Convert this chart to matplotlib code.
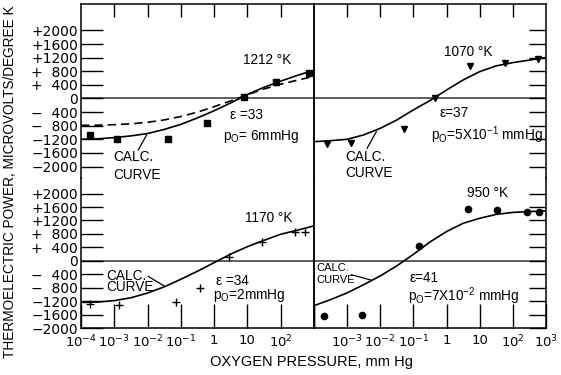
import numpy as np
import matplotlib.pyplot as plt
from matplotlib.ticker import FixedLocator, NullLocator

plt.rcParams['font.family'] = ['DejaVu Sans']
plt.rcParams['mathtext.default'] = 'regular'
LET = ['Liberation Sans', 'DejaVu Sans']

curve_logp = [-4, -3.5, -3, -2.5, -2, -1.5, -1, -0.5, 0, 0.5, 1, 1.5, 2, 2.5, 3]

# 1212 K
pts_1212_logp = [-3.73, -2.91, -1.38, -0.22, 0.90, 1.86, 2.85]
pts_1212_val = [-1070, -1186, -1186, -730, 40, 485, 750]
calc_1212 = [-1200, -1185, -1150, -1100, -1030, -910, -760, -570, -360, -130, 120, 330, 510, 680, 830]
dash_1212 = [-790, -785, -770, -745, -700, -630, -530, -400, -240, -70, 110, 280, 420, 540, 650]

# 1070 K
pts_1070_logp = [-3.61, -2.89, -1.27, -0.34, 0.71, 1.77, 2.76]
pts_1070_val = [-1338, -1309, -897, 0, 956, 1044, 1162]
calc_1070 = [-1270, -1240, -1200, -1070, -877, -630, -335, -60, 250, 545, 790, 960, 1055, 1130, 1205]

# 1170 K
pts_1170_logp = [-3.73, -2.85, -1.15, -0.43, 0.45, 1.44, 2.43, 2.73]
pts_1170_val = [-1276, -1306, -1237, -810, 110, 573, 852, 870]
calc_1170 = [-1240, -1228, -1185, -1100, -960, -775, -550, -310, -55, 200, 420, 610, 790, 910, 1040]

# 950 K
pts_950_logp = [-3.70, -2.54, -0.82, 0.66, 1.53, 2.44, 2.79]
pts_950_val = [-1632, -1602, 454, 1534, 1504, 1445, 1445]
calc_950 = [-1335, -1155, -955, -710, -450, -150, 190, 560, 870, 1115, 1265, 1380, 1440, 1465, 1485]

ytick_vals = [2000, 1600, 1200, 800, 400, 0, -400, -800, -1200, -1600, -2000]
ytick_labels = ['+2000', '+1600', '+1200', '+\u2007800', '+\u2007400', '0',
                '\u2212\u2007400', '\u2212\u2007800', '\u22121200', '\u22121600', '\u22122000']
xtick_exps = [-4, -3, -2, -1, 0, 1, 2, 3]
xlabels_left = ['$10^{-4}$', '$10^{-3}$', '$10^{-2}$', '$10^{-1}$', '1', '10', '$10^{2}$', '']
xlabels_right = ['', '$10^{-3}$', '$10^{-2}$', '$10^{-1}$', '1', '10', '$10^{2}$', '$10^{3}$']


def P(v):
    return np.power(10.0, np.asarray(v, dtype=float))


fig = plt.figure(figsize=(5.61, 3.75), dpi=100)
W, Hh = 561.0, 375.0
L, M, R = 81 / W, 314 / W, 546 / W
T, MID, B = 1 - 4 / Hh, 1 - 178 / Hh, 1 - 328 / Hh

ax_tl = fig.add_axes([L, MID, M - L, T - MID])
ax_tr = fig.add_axes([M, MID, R - M, T - MID])
ax_bl = fig.add_axes([L, B, M - L, MID - B])
ax_br = fig.add_axes([M, B, R - M, MID - B])


def style(ax, top, left):
    ax.set_facecolor('none')
    ax.set_xscale('log')
    ax.set_xlim(1e-4, 1e3)
    ax.set_ylim((-2338, 2779) if top else (-2000, 2463))
    for s in ax.spines.values():
        s.set_linewidth(1.1)
    ax.spines['bottom' if top else 'top'].set_visible(False)
    ax.axhline(0, color='#444444', lw=1.2, zorder=1)
    ax.xaxis.set_minor_locator(NullLocator())
    ax.yaxis.set_minor_locator(NullLocator())
    if top:
        ax.xaxis.set_major_locator(FixedLocator(P([-3, -2, -1, 0, 1, 2])))
        ax.tick_params(axis='x', direction='in', top=True, bottom=False,
                       labelbottom=False, length=9.5, width=1.0)
    else:
        ax.xaxis.set_major_locator(FixedLocator(P(xtick_exps)))
        ax.set_xticklabels(xlabels_left if left else xlabels_right)
        ax.tick_params(axis='x', direction='in', top=False, bottom=True,
                       length=17, width=1.0, labelsize=9.5, pad=4)
    ax.set_yticks(ytick_vals)
    if left:
        ax.set_yticklabels(ytick_labels)
        ax.tick_params(axis='y', direction='in', left=True, right=False,
                       length=16, width=1.0, labelsize=10, pad=2)
    else:
        ax.tick_params(axis='y', direction='in', left=False, right=True,
                       labelleft=False, length=12, width=1.0)


style(ax_tl, True, True)
style(ax_tr, True, False)
style(ax_bl, False, True)
style(ax_br, False, False)

lk = dict(color='black', lw=1.2, zorder=3)
fs = 9.8
tk = dict(fontsize=fs, family=LET, va='center')

# 1212 K
ax_tl.plot(P(curve_logp), calc_1212, **lk)
ax_tl.plot(P(curve_logp), dash_1212, color='black', lw=1.2, ls=(0, (5, 3)), zorder=3)
ax_tl.plot(P(pts_1212_logp), pts_1212_val, 's', color='black', ms=4, zorder=4)
ax_tl.text(P(0.86), 1132, '1212 \u00b0K', **tk)
ax_tl.text(P(0.47), -488, '\u03b5 =33', **tk)
ax_tl.text(P(0.26), -1103, '$p_O$= 6mmHg', **tk)
ax_tl.text(P(-3.04), -1720, 'CALC.', **tk)
ax_tl.text(P(-3.04), -2250, 'CURVE', **tk)
ax_tl.plot(P([-2.28, -2.03]), [-1515, -1074], color='black', lw=0.9)

# 1070 K
ax_tr.plot(P(curve_logp), calc_1070, **lk)
ax_tr.plot(P(pts_1070_logp), pts_1070_val, 'v', color='black', ms=4.5, zorder=4)
ax_tr.text(P(-0.07), 1376, '1070 \u00b0K', **tk)
ax_tr.text(P(-0.22), -435, '\u03b5=37', **tk)
ax_tr.text(P(-0.47), -1074, '$p_O$=5X10$^{-1}$ mmHg', **tk)
ax_tr.text(P(-3.07), -1712, 'CALC.', **tk)
ax_tr.text(P(-3.07), -2200, 'CURVE', **tk)
ax_tr.plot(P([-2.40, -2.12]), [-1465, -976], color='black', lw=0.9)

# 1170 K
ax_bl.plot(P(curve_logp), calc_1170, **lk)
ax_bl.plot(P(pts_1170_logp), pts_1170_val, '+', color='black', ms=6, mew=1.0, zorder=4)
ax_bl.text(P(0.92), 1267, '1170 \u00b0K', **tk)
ax_bl.text(P(-3.25), -465, 'CALC.', **tk)
ax_bl.text(P(-3.25), -781, 'CURVE', **tk)
ax_bl.plot(P([-1.98, -1.48]), [-465, -762], color='black', lw=0.9)
ax_bl.text(P(0.07), -600, '\u03b5 =34', **tk)
ax_bl.text(P(-0.03), -1020, '$p_O$=2mmHg', **tk)

# 950 K
ax_br.plot(P(curve_logp), calc_950, **lk)
ax_br.plot(P(pts_950_logp), pts_950_val, 'o', color='black', ms=4.5, zorder=4)
ax_br.text(P(0.62), 2009, '950 \u00b0K', **tk)
ax_br.text(P(-3.94), -217, 'CALC.', fontsize=8, family=LET, va='center')
ax_br.text(P(-3.94), -564, 'CURVE', fontsize=8, family=LET, va='center')
ax_br.plot(P([-2.87, -2.24]), [-415, -585], color='black', lw=0.9)
ax_br.text(P(-1.12), -514, '\u03b5=41', **tk)
ax_br.text(P(-1.17), -1059, '$p_O$=7X10$^{-2}$ mmHg', **tk)

fig.text(10 / W, 1 - 182 / Hh, 'THERMOELECTRIC POWER, MICROVOLTS/DEGREE K',
         rotation=90, ha='center', va='center', fontsize=9.8, family=LET)
fig.text(312 / W, 1 - 362 / Hh, 'OXYGEN PRESSURE, mm Hg',
         ha='center', va='center', fontsize=10.5, family=LET)

fig.savefig('out.png', dpi=100)
